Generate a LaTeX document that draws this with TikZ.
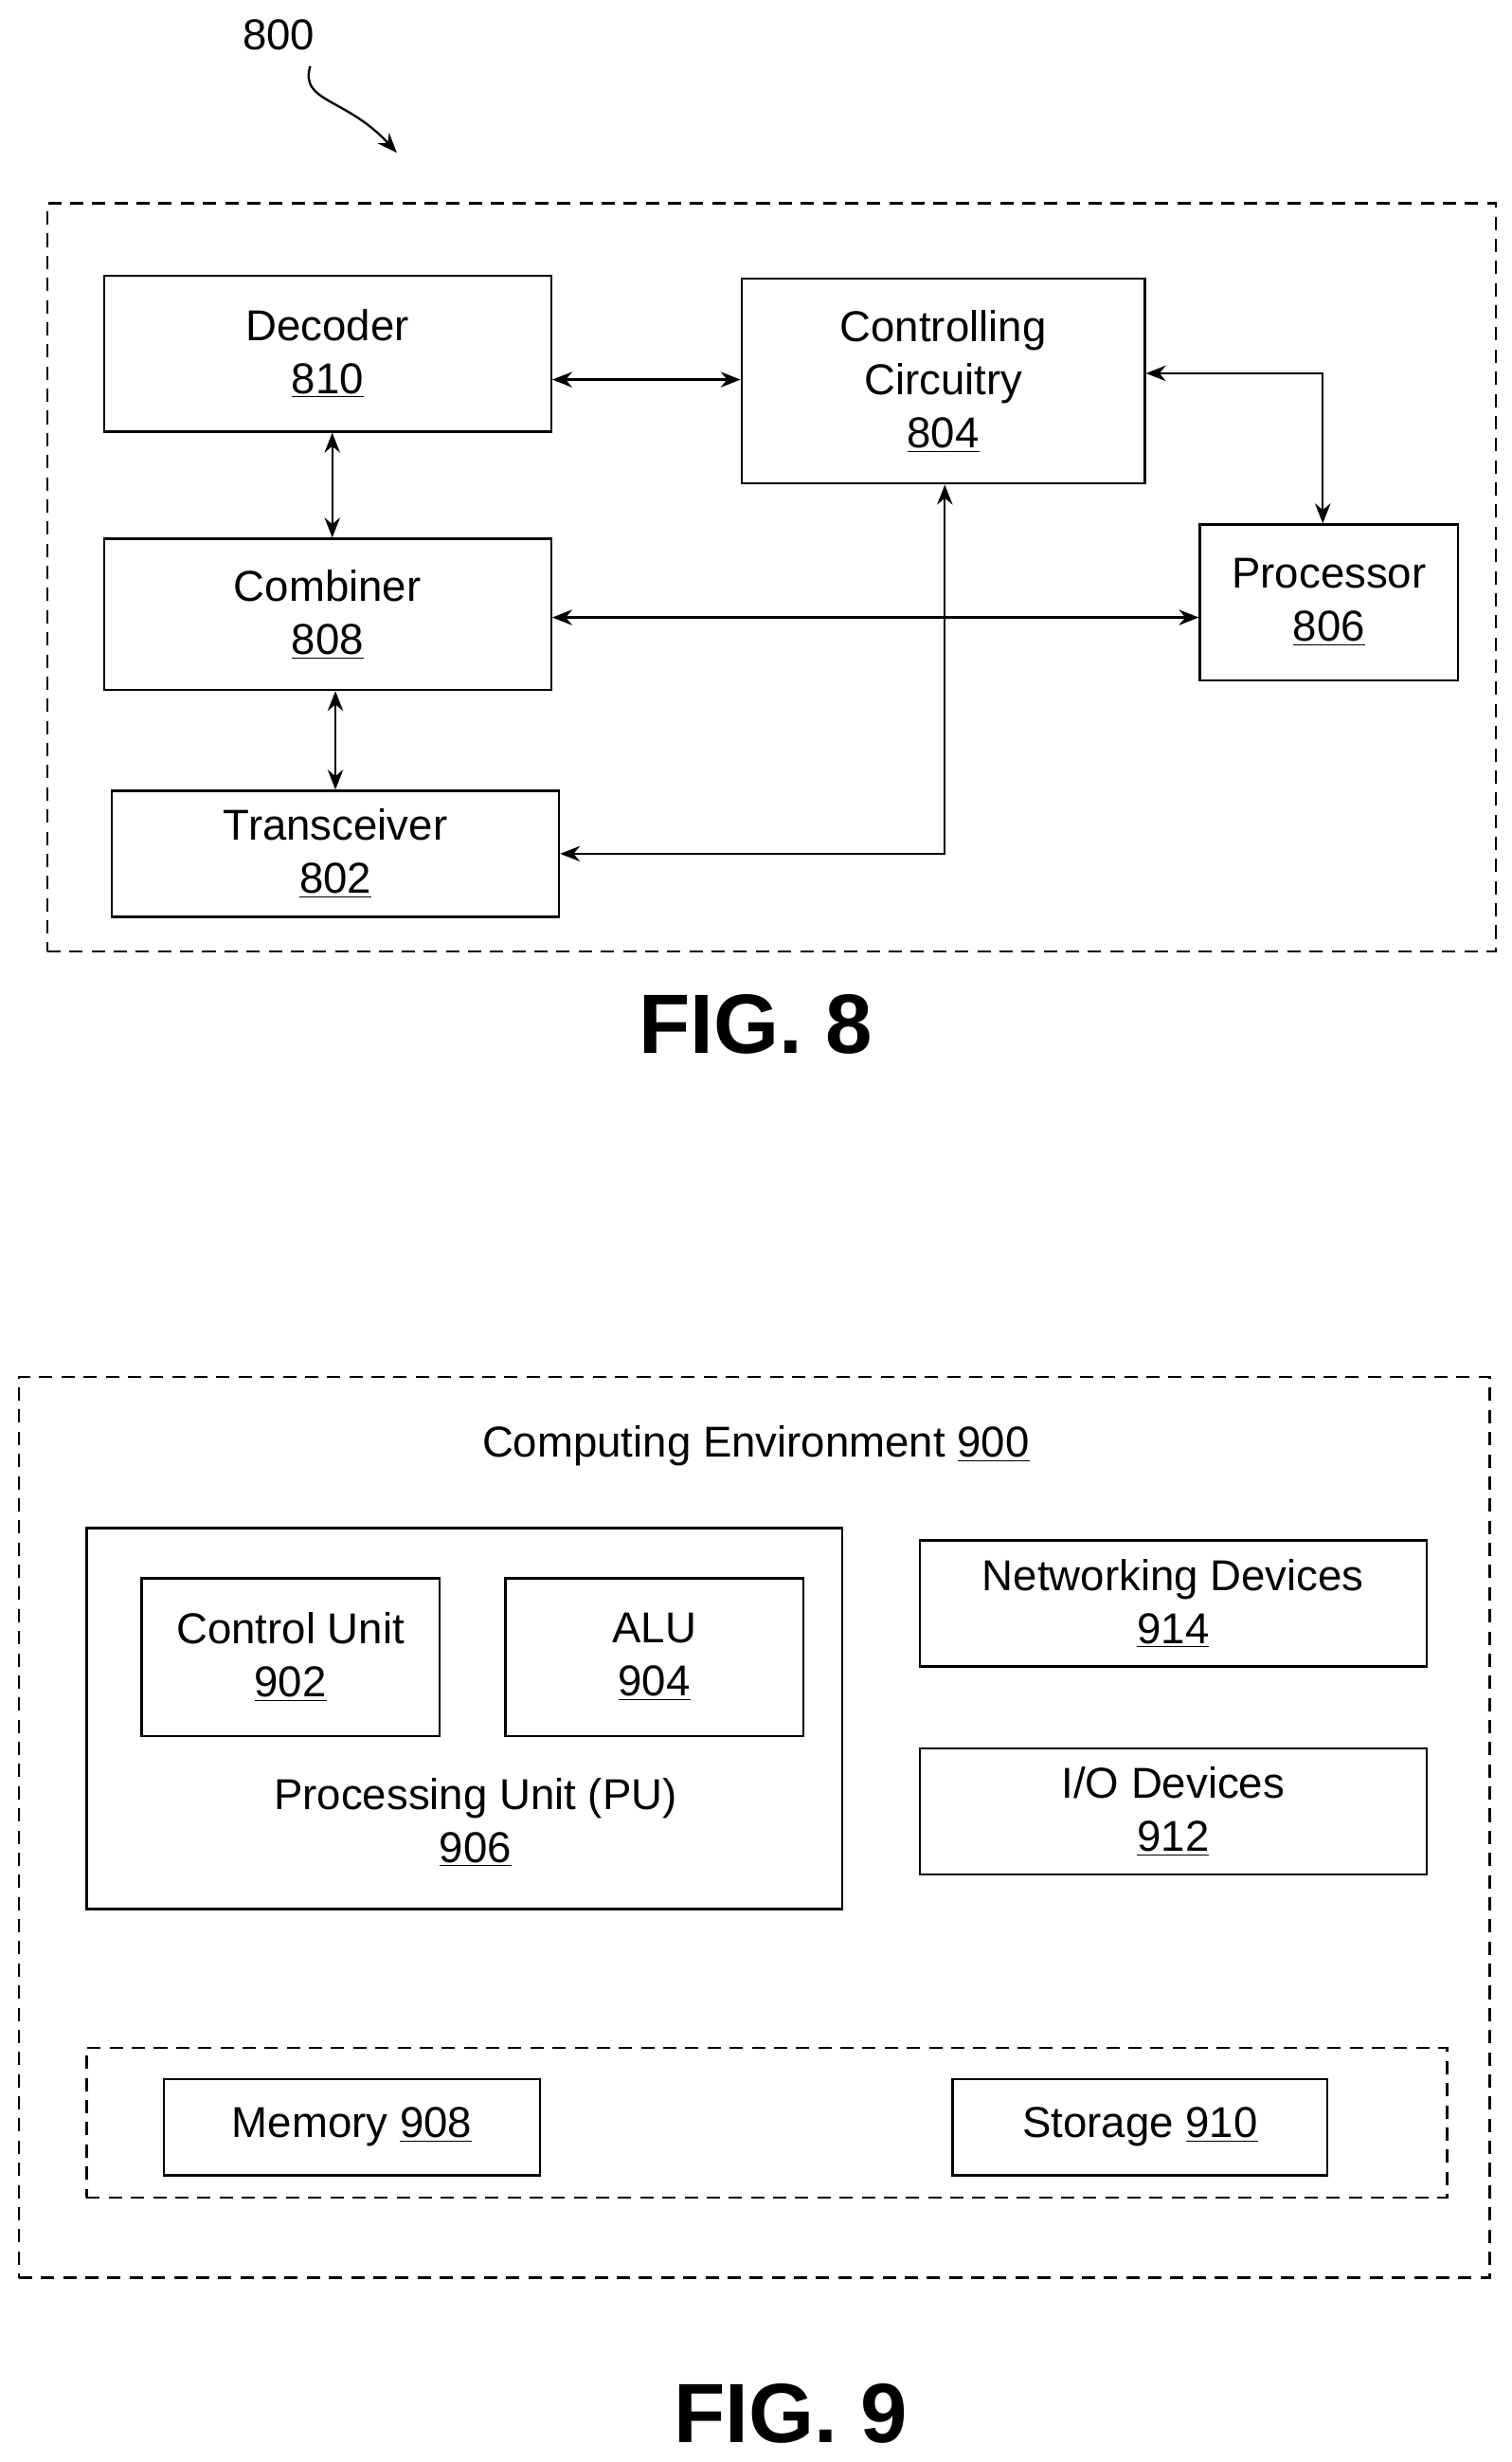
\documentclass[tikz,border=0pt]{standalone}
\usepackage{fontspec}
\setmainfont{Liberation Sans}
\usetikzlibrary{fit,arrows.meta}
\begin{document}
\begin{tikzpicture}[x=0.025cm,y=-0.025cm,
  box/.style={draw,line width=1pt,inner sep=0pt},
  dbox/.style={draw,line width=1pt,dash pattern=on 6pt off 4pt,inner sep=0pt},
  arr/.style={line width=1pt,{Stealth[length=9pt,width=7pt]}-{Stealth[length=9pt,width=7pt]}},
  lbl/.style={font=\fontsize{19.5}{24}\selectfont,align=center},
  fig/.style={font=\fontsize{38}{40}\selectfont\bfseries}]
\useasboundingbox (0,0) rectangle (960,1563);
% FIG 8
\node[dbox,fit={(30,129)(950,604)}] (f8) {};
\node[box,fit={(66,175)(350,274)},label={[lbl]center:Decoder\\\underline{810}}] (dec) {};
\node[box,fit={(471,177)(727,307)},label={[lbl]center:Controlling\\Circuitry\\\underline{804}}] (ctl) {};
\node[box,fit={(66,342)(350,438)},label={[lbl]center:Combiner\\\underline{808}}] (com) {};
\node[box,fit={(762,333)(926,432)},label={[lbl]center:Processor\\\underline{806}}] (pro) {};
\node[box,fit={(71,502)(355,582)},label={[lbl]center:Transceiver\\\underline{802}}] (tra) {};
\draw[arr] (dec.east |- 0,241) -- (ctl.west |- 0,241);
\draw[arr] (ctl.east |- 0,237) -| (pro.north -| 840,0);
\draw[arr] (dec.south -| 211,0) -- (com.north -| 211,0);
\draw[arr] (com.east |- 0,392) -- (pro.west |- 0,392);
\draw[arr] (com.south -| 213,0) -- (tra.north -| 213,0);
\draw[arr] (tra.east |- 0,542) -| (ctl.south -| 600,0);
\node[lbl] (n800) at (177,22) {800};
\coordinate (a800) at (252,97);
\draw[line width=1pt,-{Stealth[length=9pt,width=7pt]}] (197,42) .. controls (190,65) and (220,62) .. (a800);
\node[fig] (fig8) at (480,650) {FIG. 8};
% FIG 9
\node[dbox,fit={(12,874)(946,1446)}] (f9) {};
\node[lbl] (env) at (480,918) {Computing Environment \underline{900}};
\node[box,fit={(55,970)(535,1212)}] (pu) {};
\node[box,fit={(90,1002)(279,1102)},label={[lbl]center:Control Unit\\\underline{902}}] (cu) {};
\node[box,fit={(321,1002)(510,1102)},label={[lbl]center:ALU\\\underline{904}}] (alu) {};
\node[lbl] (put) at (302,1157) {Processing Unit (PU)\\\underline{906}};
\node[box,fit={(584,978)(906,1058)},label={[lbl]center:Networking Devices\\\underline{914}}] (net) {};
\node[box,fit={(584,1110)(906,1190)},label={[lbl]center:I/O Devices\\\underline{912}}] (io) {};
\node[dbox,fit={(55,1300)(919,1395)}] (bus) {};
\node[box,fit={(104,1320)(343,1381)},label={[lbl]center:Memory \underline{908}}] (mem) {};
\node[box,fit={(605,1320)(843,1381)},label={[lbl]center:Storage \underline{910}}] (sto) {};
\node[fig] (fig9) at (502,1532) {FIG. 9};
\end{tikzpicture}
\end{document}
